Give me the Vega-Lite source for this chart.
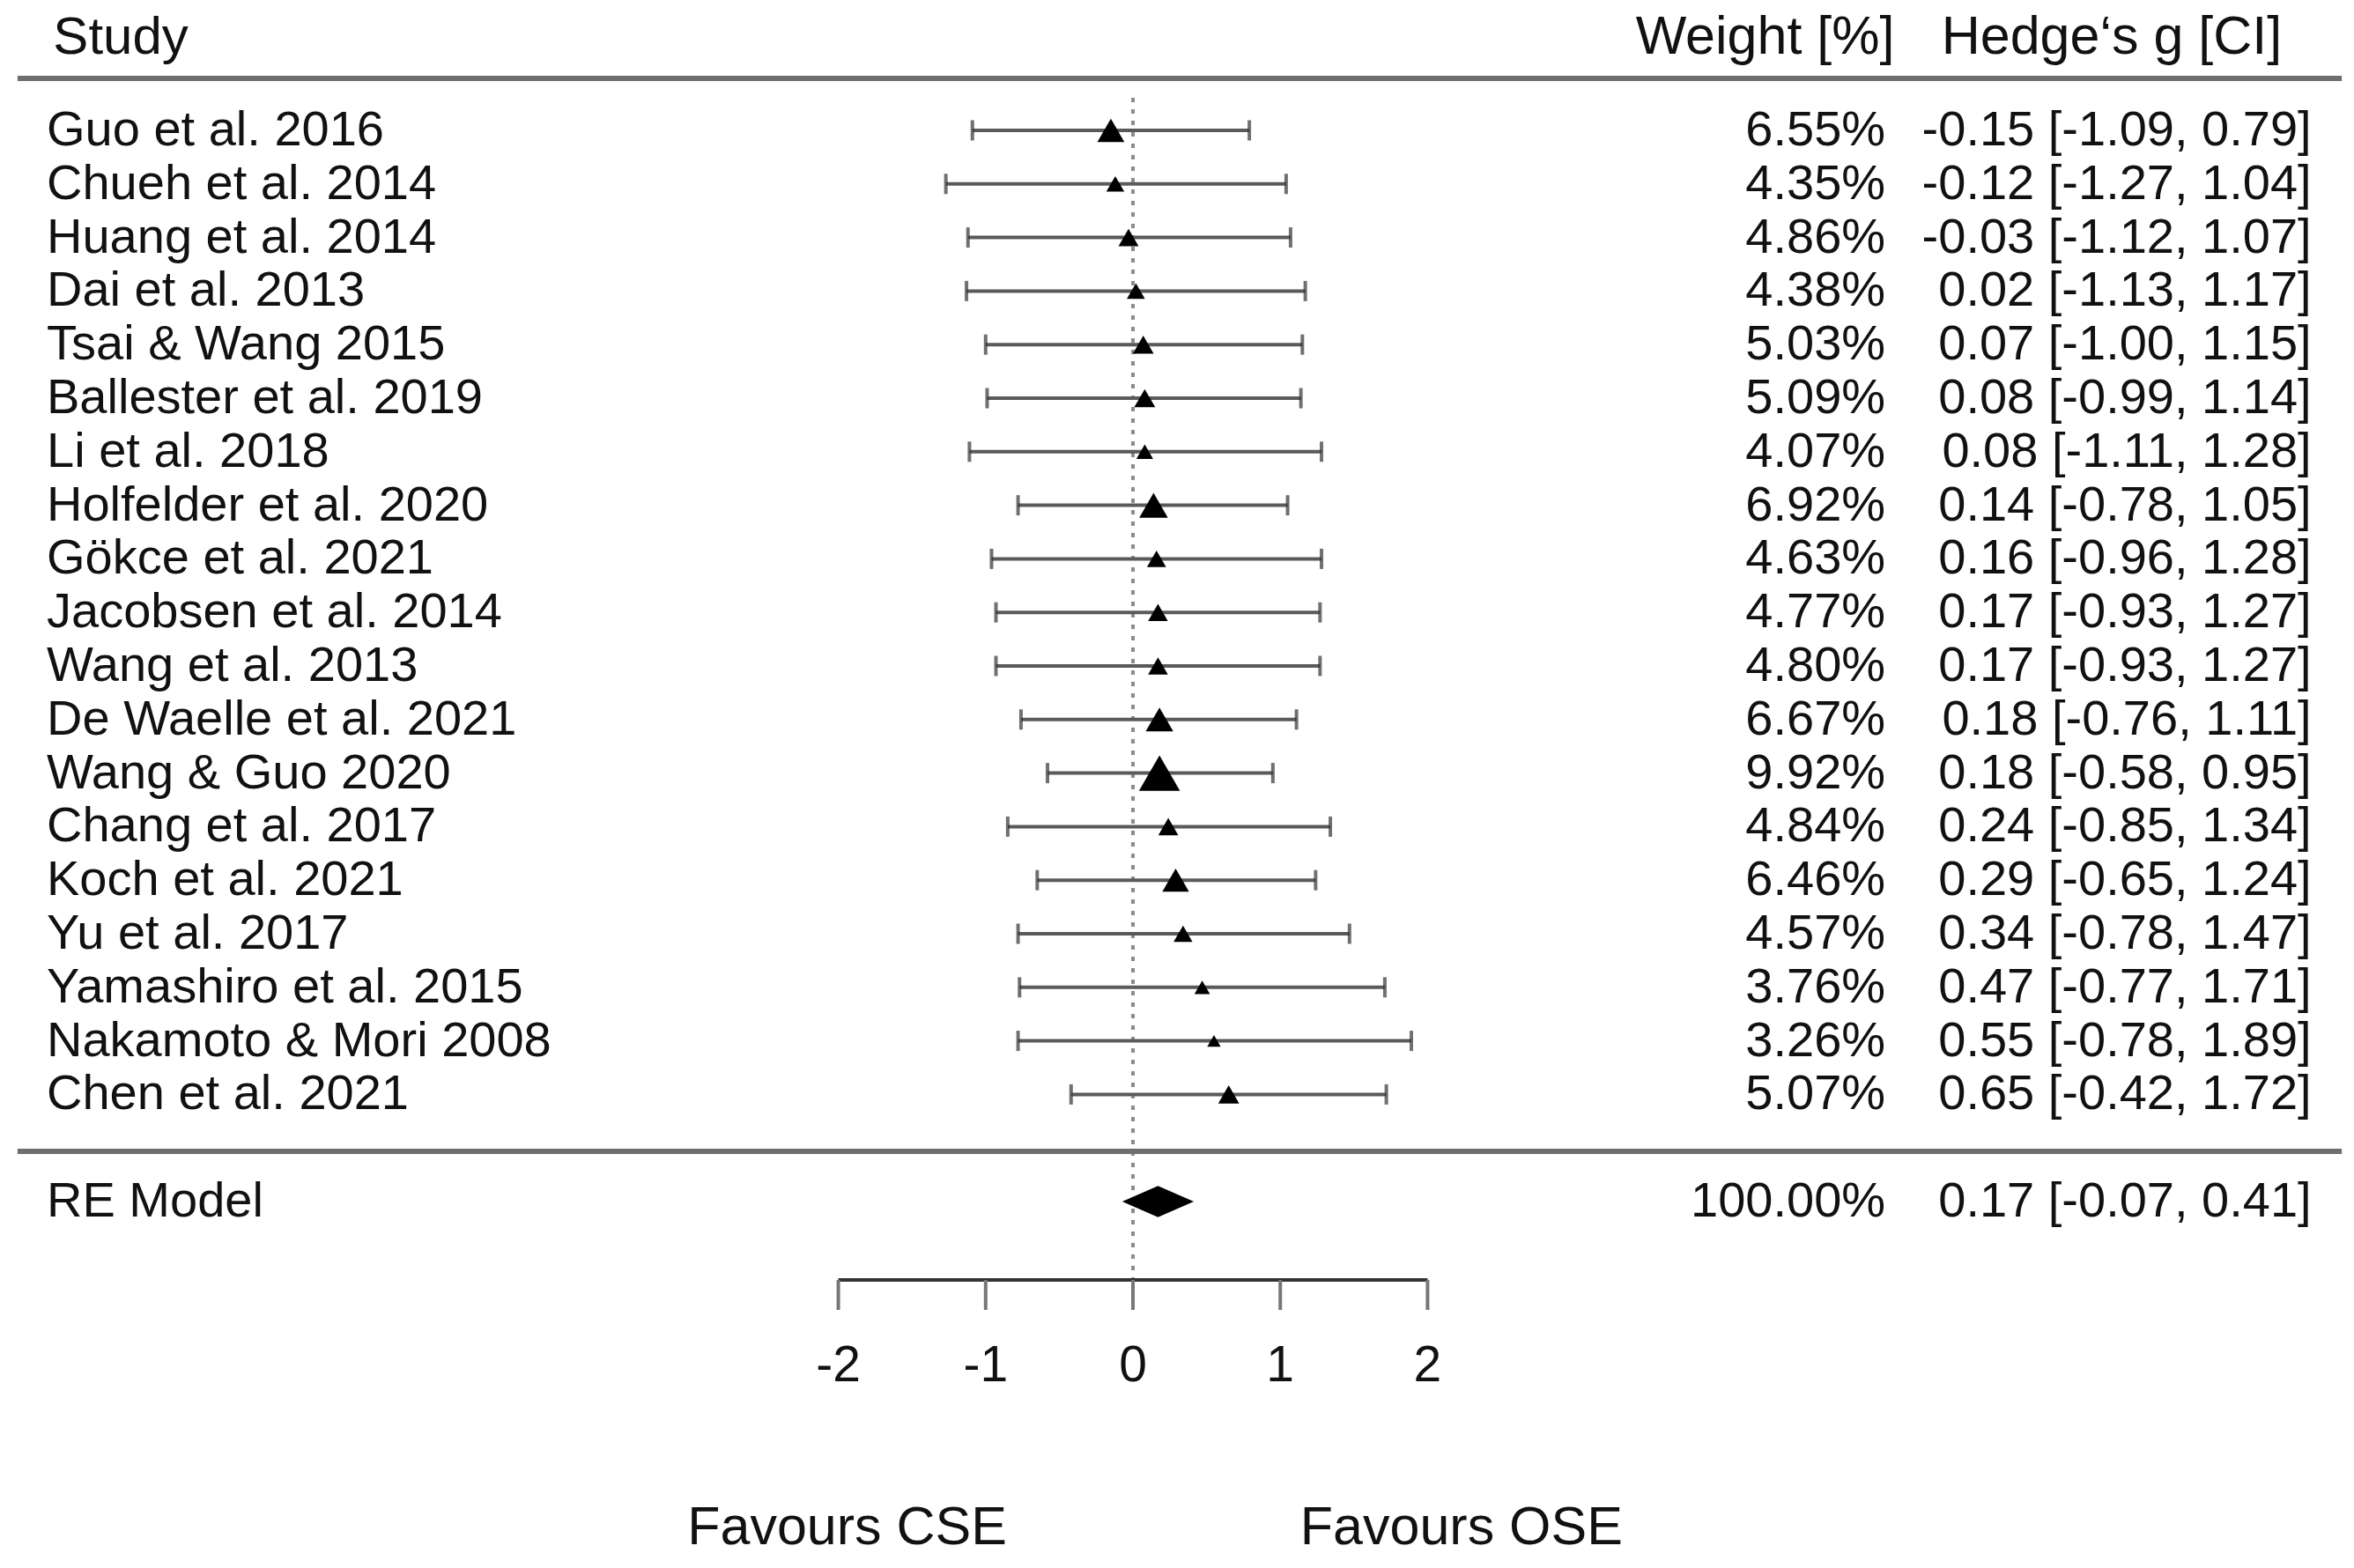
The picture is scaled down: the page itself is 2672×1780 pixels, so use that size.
{
  "$schema": "https://vega.github.io/schema/vega-lite/v6.json",
  "width": 2672,
  "height": 1780,
  "padding": 0,
  "autosize": {"type": "none"},
  "background": "white",
  "config": {"view": {"stroke": null}, "text": {"font": "Liberation Sans", "color": "#111111"}},
  "datasets": {
    "rows": [
      {"kind": "study", "study": "Guo et al. 2016", "order": 1, "est": -0.15, "lo": -1.09, "hi": 0.79, "weight": 0.0655, "ci": "-0.15 [-1.09, 0.79]"},
      {"kind": "study", "study": "Chueh et al. 2014", "order": 2, "est": -0.12, "lo": -1.27, "hi": 1.04, "weight": 0.0435, "ci": "-0.12 [-1.27, 1.04]"},
      {"kind": "study", "study": "Huang et al. 2014", "order": 3, "est": -0.03, "lo": -1.12, "hi": 1.07, "weight": 0.0486, "ci": "-0.03 [-1.12, 1.07]"},
      {"kind": "study", "study": "Dai et al. 2013", "order": 4, "est": 0.02, "lo": -1.13, "hi": 1.17, "weight": 0.0438, "ci": "0.02 [-1.13, 1.17]"},
      {"kind": "study", "study": "Tsai & Wang 2015", "order": 5, "est": 0.07, "lo": -1.00, "hi": 1.15, "weight": 0.0503, "ci": "0.07 [-1.00, 1.15]"},
      {"kind": "study", "study": "Ballester et al. 2019", "order": 6, "est": 0.08, "lo": -0.99, "hi": 1.14, "weight": 0.0509, "ci": "0.08 [-0.99, 1.14]"},
      {"kind": "study", "study": "Li et al. 2018", "order": 7, "est": 0.08, "lo": -1.11, "hi": 1.28, "weight": 0.0407, "ci": "0.08 [-1.11, 1.28]"},
      {"kind": "study", "study": "Holfelder et al. 2020", "order": 8, "est": 0.14, "lo": -0.78, "hi": 1.05, "weight": 0.0692, "ci": "0.14 [-0.78, 1.05]"},
      {"kind": "study", "study": "Gökce et al. 2021", "order": 9, "est": 0.16, "lo": -0.96, "hi": 1.28, "weight": 0.0463, "ci": "0.16 [-0.96, 1.28]"},
      {"kind": "study", "study": "Jacobsen et al. 2014", "order": 10, "est": 0.17, "lo": -0.93, "hi": 1.27, "weight": 0.0477, "ci": "0.17 [-0.93, 1.27]"},
      {"kind": "study", "study": "Wang et al. 2013", "order": 11, "est": 0.17, "lo": -0.93, "hi": 1.27, "weight": 0.0480, "ci": "0.17 [-0.93, 1.27]"},
      {"kind": "study", "study": "De Waelle et al. 2021", "order": 12, "est": 0.18, "lo": -0.76, "hi": 1.11, "weight": 0.0667, "ci": "0.18 [-0.76, 1.11]"},
      {"kind": "study", "study": "Wang & Guo 2020", "order": 13, "est": 0.18, "lo": -0.58, "hi": 0.95, "weight": 0.0992, "ci": "0.18 [-0.58, 0.95]"},
      {"kind": "study", "study": "Chang et al. 2017", "order": 14, "est": 0.24, "lo": -0.85, "hi": 1.34, "weight": 0.0484, "ci": "0.24 [-0.85, 1.34]"},
      {"kind": "study", "study": "Koch et al. 2021", "order": 15, "est": 0.29, "lo": -0.65, "hi": 1.24, "weight": 0.0646, "ci": "0.29 [-0.65, 1.24]"},
      {"kind": "study", "study": "Yu et al. 2017", "order": 16, "est": 0.34, "lo": -0.78, "hi": 1.47, "weight": 0.0457, "ci": "0.34 [-0.78, 1.47]"},
      {"kind": "study", "study": "Yamashiro et al. 2015", "order": 17, "est": 0.47, "lo": -0.77, "hi": 1.71, "weight": 0.0376, "ci": "0.47 [-0.77, 1.71]"},
      {"kind": "study", "study": "Nakamoto & Mori 2008", "order": 18, "est": 0.55, "lo": -0.78, "hi": 1.89, "weight": 0.0326, "ci": "0.55 [-0.78, 1.89]"},
      {"kind": "study", "study": "Chen et al. 2021", "order": 19, "est": 0.65, "lo": -0.42, "hi": 1.72, "weight": 0.0507, "ci": "0.65 [-0.42, 1.72]"},
      {"kind": "pooled", "study": "RE Model", "order": 21, "est": 0.17, "lo": -0.07, "hi": 0.41, "weight": 1.0, "ci": "0.17 [-0.07, 0.41]"}
    ],
    "ticks": [{"v": -2}, {"v": -1}, {"v": 0}, {"v": 1}, {"v": 2}],
    "one": [{}]
  },
  "layer": [
    {
      "data": {"name": "one"},
      "mark": {"type": "rule", "color": "#8c8c8c", "strokeWidth": 4, "strokeDash": [5, 8]},
      "encoding": {
        "x": {"datum": 0, "type": "quantitative", "scale": {"domain": [-7.691, 8.289], "nice": false, "zero": false}, "axis": null},
        "y": {"datum": 0.391, "type": "quantitative", "scale": {"domain": [-1.434, 27.842], "nice": false, "zero": false, "reverse": true}, "axis": null},
        "y2": {"datum": 22.464}
      }
    },
    {
      "data": {"name": "one"},
      "mark": {"type": "rule", "color": "#6e6e6e", "strokeWidth": 6},
      "encoding": {
        "x": {"datum": -7.572, "type": "quantitative"},
        "x2": {"datum": 8.206},
        "y": {"datum": 0.03, "type": "quantitative"}
      }
    },
    {
      "data": {"name": "one"},
      "mark": {"type": "rule", "color": "#6e6e6e", "strokeWidth": 6},
      "encoding": {
        "x": {"datum": -7.572, "type": "quantitative"},
        "x2": {"datum": 8.206},
        "y": {"datum": 20.062, "type": "quantitative"}
      }
    },
    {
      "data": {"name": "rows"},
      "transform": [{"filter": "datum.kind === 'study'"}],
      "mark": {"type": "rule", "color": "#5a5a5a", "strokeWidth": 4},
      "encoding": {
        "x": {"field": "lo", "type": "quantitative"},
        "x2": {"field": "hi"},
        "y": {"field": "order", "type": "quantitative"}
      }
    },
    {
      "data": {"name": "rows"},
      "transform": [{"filter": "datum.kind === 'study'"}],
      "mark": {"type": "tick", "orient": "vertical", "color": "#333333", "size": 23, "thickness": 4},
      "encoding": {
        "x": {"field": "lo", "type": "quantitative"},
        "y": {"field": "order", "type": "quantitative"}
      }
    },
    {
      "data": {"name": "rows"},
      "transform": [{"filter": "datum.kind === 'study'"}],
      "mark": {"type": "tick", "orient": "vertical", "color": "#333333", "size": 23, "thickness": 4},
      "encoding": {
        "x": {"field": "hi", "type": "quantitative"},
        "y": {"field": "order", "type": "quantitative"}
      }
    },
    {
      "data": {"name": "rows"},
      "transform": [{"filter": "datum.kind === 'study'"}],
      "mark": {"type": "point", "shape": "triangle-up", "filled": true, "color": "#000000", "opacity": 1},
      "encoding": {
        "x": {"field": "est", "type": "quantitative"},
        "y": {"field": "order", "type": "quantitative"},
        "size": {"field": "weight", "type": "quantitative", "scale": {"type": "pow", "exponent": 2, "domain": [0, 0.1], "range": [0, 2200]}, "legend": null}
      }
    },
    {
      "data": {"name": "rows"},
      "transform": [{"filter": "datum.kind === 'pooled'"}],
      "mark": {"type": "point", "shape": "M-1,0L0,-0.44L1,0L0,0.44Z", "filled": true, "color": "#000000", "opacity": 1, "size": 6600},
      "encoding": {
        "x": {"field": "est", "type": "quantitative"},
        "y": {"field": "order", "type": "quantitative"}
      }
    },
    {
      "data": {"name": "rows"},
      "mark": {"type": "text", "align": "left", "baseline": "middle", "fontSize": 56},
      "encoding": {
        "x": {"datum": -7.374, "type": "quantitative"},
        "y": {"field": "order", "type": "quantitative"},
        "text": {"field": "study", "type": "nominal"}
      }
    },
    {
      "data": {"name": "rows"},
      "mark": {"type": "text", "align": "right", "baseline": "middle", "fontSize": 56},
      "encoding": {
        "x": {"datum": 5.108, "type": "quantitative"},
        "y": {"field": "order", "type": "quantitative"},
        "text": {"field": "weight", "type": "quantitative", "format": ".2%"}
      }
    },
    {
      "data": {"name": "rows"},
      "mark": {"type": "text", "align": "right", "baseline": "middle", "fontSize": 56},
      "encoding": {
        "x": {"datum": 8.0, "type": "quantitative"},
        "y": {"field": "order", "type": "quantitative"},
        "text": {"field": "ci", "type": "nominal"}
      }
    },
    {
      "data": {"name": "one"},
      "mark": {"type": "text", "align": "left", "baseline": "middle", "fontSize": 60},
      "encoding": {
        "x": {"datum": -7.33, "type": "quantitative"},
        "y": {"datum": -0.727, "type": "quantitative"},
        "text": {"value": "Study"}
      }
    },
    {
      "data": {"name": "one"},
      "mark": {"type": "text", "align": "right", "baseline": "middle", "fontSize": 61},
      "encoding": {
        "x": {"datum": 5.17, "type": "quantitative"},
        "y": {"datum": -0.727, "type": "quantitative"},
        "text": {"value": "Weight [%]"}
      }
    },
    {
      "data": {"name": "one"},
      "mark": {"type": "text", "align": "right", "baseline": "middle", "fontSize": 61},
      "encoding": {
        "x": {"datum": 7.8, "type": "quantitative"},
        "y": {"datum": -0.727, "type": "quantitative"},
        "text": {"value": "Hedge‘s g [CI]"}
      }
    },
    {
      "data": {"name": "one"},
      "mark": {"type": "rule", "color": "#333333", "strokeWidth": 4},
      "encoding": {
        "x": {"datum": -2, "type": "quantitative"},
        "x2": {"datum": 2},
        "y": {"datum": 22.464, "type": "quantitative"}
      }
    },
    {
      "data": {"name": "ticks"},
      "mark": {"type": "rule", "color": "#777777", "strokeWidth": 4},
      "encoding": {
        "x": {"field": "v", "type": "quantitative"},
        "y": {"datum": 22.464, "type": "quantitative"},
        "y2": {"datum": 23.023}
      }
    },
    {
      "data": {"name": "ticks"},
      "mark": {"type": "text", "align": "center", "baseline": "middle", "fontSize": 57},
      "encoding": {
        "x": {"field": "v", "type": "quantitative"},
        "y": {"datum": 24.076, "type": "quantitative"},
        "text": {"field": "v", "type": "nominal"}
      }
    },
    {
      "data": {"name": "one"},
      "mark": {"type": "text", "align": "center", "baseline": "middle", "fontSize": 61},
      "encoding": {
        "x": {"datum": -1.94, "type": "quantitative"},
        "y": {"datum": 27.1, "type": "quantitative"},
        "text": {"value": "Favours CSE"}
      }
    },
    {
      "data": {"name": "one"},
      "mark": {"type": "text", "align": "center", "baseline": "middle", "fontSize": 61},
      "encoding": {
        "x": {"datum": 2.23, "type": "quantitative"},
        "y": {"datum": 27.1, "type": "quantitative"},
        "text": {"value": "Favours OSE"}
      }
    }
  ]
}
